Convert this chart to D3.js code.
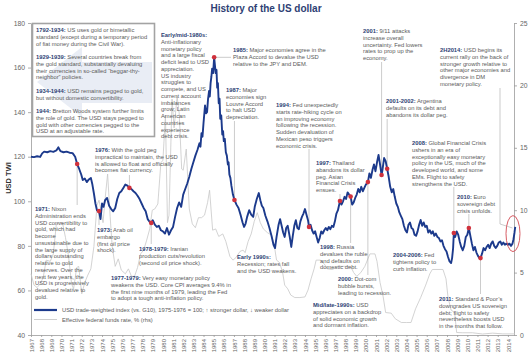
<!DOCTYPE html>
<html><head><meta charset="utf-8">
<script src="https://cdn.jsdelivr.net/npm/d3@7"></script>
<style>
body{margin:0;background:#fff;}
svg{display:block;font-family:"Liberation Sans",Arial,Helvetica,sans-serif;}
</style></head><body>
<svg id="c" width="531" height="360"></svg>
<script>
// ---------------- DATA ----------------
const titleText = "History of the US dollar";
const leftTicks = [40, 60, 80, 100, 120, 140, 160, 180];
const rightTicks = [0, 5, 10, 15, 20, 25];
const yearTicks = d3.range(1967, 2015);

// USD trade-weighted index (vs. G10), 1975-1976 = 100  [decimal year, value]
const usdSeries = [
[1967.0,120.0],[1967.3,119.8],[1967.6,120.2],[1967.9,119.9],[1968.1,121.5],[1968.3,122.3],[1968.6,122.0],[1968.9,122.5],
[1969.2,122.2],[1969.5,122.8],[1969.7,124.2],[1969.9,122.5],[1970.2,122.0],[1970.5,122.3],[1970.8,121.8],[1971.1,121.6],
[1971.35,120.0],[1971.55,116.7],[1971.75,114.5],[1971.95,112.0],[1972.1,109.5],[1972.3,110.2],[1972.5,108.6],[1972.7,109.8],
[1972.9,110.5],[1973.05,107.5],[1973.2,103.5],[1973.35,99.0],[1973.5,96.0],[1973.7,95.6],[1973.85,92.0],[1974.0,99.0],
[1974.15,97.5],[1974.3,100.5],[1974.5,101.5],[1974.7,98.0],[1974.9,96.5],[1975.1,95.5],[1975.3,97.0],[1975.5,101.0],
[1975.7,103.7],[1975.9,104.5],[1976.1,106.0],[1976.3,107.5],[1976.5,107.0],[1976.7,106.0],[1976.9,105.5],[1977.1,104.5],
[1977.3,103.7],[1977.5,102.5],[1977.7,101.0],[1977.9,99.0],[1978.1,97.0],[1978.3,95.5],[1978.5,92.0],[1978.7,90.7],
[1978.85,90.3],[1979.0,91.5],[1979.2,89.5],[1979.4,88.5],[1979.6,89.0],[1979.8,87.0],[1980.0,86.5],[1980.2,85.5],
[1980.4,88.0],[1980.6,85.0],[1980.8,87.0],[1981.0,88.5],[1981.2,93.0],[1981.4,97.0],[1981.6,99.5],[1981.8,97.5],
[1982.0,103.0],[1982.2,105.5],[1982.4,108.0],[1982.6,111.0],[1982.8,114.5],[1983.0,117.5],[1983.2,120.5],[1983.4,123.0],
[1983.6,126.0],[1983.7,124.5],[1983.8,130.5],[1983.9,129.0],[1984.0,135.0],[1984.15,143.0],[1984.25,139.5],[1984.35,140.0],
[1984.45,146.0],[1984.55,149.5],[1984.62,147.0],[1984.7,153.0],[1984.78,156.0],[1984.85,159.5],[1984.95,157.5],[1985.05,164.6],
[1985.2,157.5],[1985.28,159.0],[1985.35,151.0],[1985.42,153.0],[1985.5,144.0],[1985.58,146.0],[1985.65,137.0],[1985.75,138.5],
[1985.85,130.0],[1985.93,131.5],[1986.0,127.0],[1986.1,128.0],[1986.2,122.0],[1986.3,120.5],[1986.4,116.5],[1986.47,117.5],
[1986.55,112.0],[1986.65,110.5],[1986.75,107.0],[1986.9,103.0],[1987.05,100.6],[1987.25,98.5],[1987.45,97.0],[1987.65,94.0],
[1987.85,90.5],[1988.0,88.5],[1988.15,90.0],[1988.3,93.0],[1988.5,96.0],[1988.7,94.0],[1988.9,93.0],[1989.05,97.5],
[1989.25,101.0],[1989.45,103.7],[1989.6,100.5],[1989.75,98.0],[1989.9,97.0],[1990.1,93.5],[1990.3,91.0],[1990.5,88.0],
[1990.7,84.5],[1990.9,80.5],[1991.05,79.0],[1991.2,84.0],[1991.4,89.5],[1991.55,92.0],[1991.7,89.0],[1991.85,86.0],
[1992.0,84.0],[1992.15,88.0],[1992.3,89.0],[1992.5,84.0],[1992.65,79.5],[1992.8,84.5],[1992.95,89.0],[1993.1,91.5],
[1993.25,88.0],[1993.4,87.5],[1993.55,91.0],[1993.7,93.0],[1993.85,94.5],[1994.0,96.5],[1994.15,94.0],[1994.3,91.5],
[1994.4,88.5],[1994.55,89.5],[1994.7,87.0],[1994.85,85.5],[1995.0,86.5],[1995.15,84.0],[1995.3,81.5],[1995.45,83.5],
[1995.6,86.5],[1995.75,85.5],[1995.9,87.0],[1996.05,88.0],[1996.2,87.0],[1996.35,88.5],[1996.5,87.5],[1996.65,89.0],
[1996.8,88.5],[1996.95,91.0],[1997.1,94.5],[1997.25,96.0],[1997.45,100.1],[1997.6,98.5],[1997.75,100.0],[1997.9,102.0],
[1998.05,101.0],[1998.2,104.0],[1998.35,103.0],[1998.5,102.1],[1998.65,98.5],[1998.8,99.5],[1998.95,101.5],[1999.1,103.0],
[1999.25,105.5],[1999.4,104.0],[1999.55,106.5],[1999.7,104.5],[1999.85,106.0],[2000.0,107.5],[2000.2,108.6],[2000.35,112.5],
[2000.5,110.5],[2000.65,114.0],[2000.8,116.5],[2000.95,113.5],[2001.1,117.5],[2001.25,120.8],[2001.4,116.5],[2001.55,111.8],
[2001.65,114.5],[2001.8,119.4],[2001.95,118.0],[2002.1,114.6],[2002.25,111.0],[2002.4,106.5],[2002.55,104.0],[2002.7,105.5],
[2002.85,102.0],[2003.0,99.0],[2003.15,97.5],[2003.3,95.0],[2003.45,93.5],[2003.6,92.0],[2003.75,89.0],[2003.9,87.0],
[2004.05,86.0],[2004.2,89.5],[2004.35,90.5],[2004.5,88.0],[2004.65,87.5],[2004.8,85.0],[2004.95,84.5],[2005.1,86.5],
[2005.25,89.5],[2005.4,91.6],[2005.55,89.0],[2005.7,90.5],[2005.85,88.5],[2006.0,89.0],[2006.15,86.0],[2006.3,87.0],
[2006.45,85.5],[2006.6,86.5],[2006.75,84.5],[2006.9,85.5],[2007.05,84.0],[2007.2,83.5],[2007.35,82.0],[2007.5,82.5],
[2007.65,80.0],[2007.8,78.5],[2007.95,77.5],[2008.1,75.0],[2008.25,73.0],[2008.4,72.3],[2008.5,74.5],[2008.6,79.0],
[2008.67,85.8],[2008.8,84.0],[2008.95,86.5],[2009.1,85.0],[2009.25,82.0],[2009.4,79.5],[2009.55,78.0],[2009.7,80.0],
[2009.85,84.0],[2010.0,85.0],[2010.15,88.0],[2010.3,84.5],[2010.45,81.0],[2010.6,78.0],[2010.75,79.5],[2010.9,77.0],
[2011.05,75.5],[2011.2,74.5],[2011.3,74.5],[2011.45,76.5],[2011.6,79.0],[2011.75,78.0],[2011.9,79.5],[2012.05,80.5],
[2012.2,79.0],[2012.35,81.0],[2012.5,82.0],[2012.65,80.0],[2012.8,79.0],[2012.95,80.0],[2013.1,81.5],[2013.25,82.0],
[2013.4,80.5],[2013.55,81.5],[2013.7,80.5],[2013.85,81.0],[2014.0,80.5],[2014.15,81.0],[2014.3,80.0],[2014.45,81.0],
[2014.55,83.0],[2014.65,86.0],[2014.72,88.5]
];

// Effective federal funds rate, % (rhs)  [decimal year, value]
const fedSeries = [
[1967.0,4.9],[1967.3,4.0],[1967.6,3.8],[1967.9,4.1],[1968.2,4.6],[1968.5,6.0],[1968.9,5.9],[1969.2,6.5],[1969.5,8.9],
[1969.8,9.0],[1970.1,9.0],[1970.4,7.8],[1970.7,6.3],[1971.0,4.1],[1971.2,3.7],[1971.5,5.4],[1971.7,5.5],[1972.0,3.3],
[1972.3,4.2],[1972.6,4.8],[1972.9,5.3],[1973.2,7.1],[1973.5,10.4],[1973.7,10.8],[1973.9,10.0],[1974.1,9.0],[1974.35,11.3],
[1974.55,12.9],[1974.8,9.5],[1975.0,7.1],[1975.3,5.5],[1975.6,6.1],[1975.9,5.2],[1976.3,4.9],[1976.6,5.3],[1976.9,4.7],
[1977.2,4.7],[1977.5,5.4],[1977.8,6.5],[1978.1,6.8],[1978.4,7.6],[1978.7,8.5],[1978.95,10.0],[1979.2,10.1],[1979.5,10.5],
[1979.8,13.8],[1980.0,14.0],[1980.25,17.6],[1980.45,9.0],[1980.6,9.6],[1980.9,18.9],[1981.1,16.6],[1981.4,19.1],[1981.6,17.8],
[1981.85,13.3],[1982.0,13.2],[1982.3,14.9],[1982.6,10.1],[1982.9,8.9],[1983.2,8.6],[1983.5,9.4],[1983.8,9.4],[1984.1,9.6],
[1984.4,10.6],[1984.6,11.6],[1984.9,8.4],[1985.2,8.5],[1985.5,7.9],[1985.9,8.1],[1986.2,7.5],[1986.6,6.3],[1986.9,6.0],
[1987.2,6.2],[1987.6,6.7],[1987.9,6.8],[1988.1,6.6],[1988.4,7.5],[1988.7,8.1],[1989.0,9.1],[1989.3,9.8],[1989.6,9.0],
[1989.9,8.5],[1990.3,8.2],[1990.7,8.0],[1990.95,7.3],[1991.2,6.0],[1991.5,5.8],[1991.8,5.0],[1992.0,4.0],[1992.3,3.7],
[1992.6,3.2],[1993.0,3.0],[1993.5,3.0],[1994.0,3.05],[1994.3,3.6],[1994.6,4.5],[1994.9,5.3],[1995.1,6.0],[1995.5,6.0],
[1995.9,5.7],[1996.2,5.3],[1996.7,5.25],[1997.3,5.5],[1997.9,5.5],[1998.5,5.5],[1998.8,5.0],[1999.1,4.7],[1999.5,5.0],
[1999.9,5.5],[2000.4,6.5],[2000.9,6.5],[2001.1,5.9],[2001.4,4.2],[2001.7,3.1],[2001.95,1.8],[2002.5,1.75],[2002.9,1.3],
[2003.5,1.0],[2004.0,1.0],[2004.45,1.0],[2004.9,2.1],[2005.4,3.0],[2005.9,4.0],[2006.3,4.9],[2006.55,5.25],[2007.6,5.25],
[2007.9,4.5],[2008.1,3.0],[2008.4,2.0],[2008.75,1.8],[2008.95,0.2],[2009.5,0.18],[2010.5,0.18],[2011.5,0.08],[2012.5,0.15],
[2013.5,0.09],[2014.7,0.09]
];

// event markers (decimal year) on the USD line
const eventDates = [1971.55, 1973.7, 1976.7, 1978.85, 1985.05, 1987.05, 1994.4, 1997.45, 1998.5, 2000.2, 2001.55, 2002.1, 2008.67, 2010.15, 2011.3];

const legendLabels = ["USD trade-weighted index (vs. G10), 1975-1976 = 100; \u2191 stronger dollar, \u2193 weaker dollar",
                      "Effective federal funds rate, % (rhs)"];

// annotation texts
const notes = [
 {x:36, y:30, head:"1792-1934:", lines:[" US uses gold or bimetallic","standard (except during a temporary period","of fiat money during the Civil War).","",
   "\u00a71929-1939:| Several countries break from","the gold standard, substantially devaluing","their currencies in so-called \u201cbeggar-thy-","neighbor\u201d policies.","",
   "\u00a71934-1944:| USD remains pegged to gold,","but without domestic convertibility.","",
   "\u00a71944:| Bretton Woods system further limits","the role of gold. The USD stays pegged to","gold with other currencies pegged to the","USD at an adjustable rate."]},
 {x:161, y:35, head:"Early/mid-1980s:", lines:["","Anti-inflationary","monetary policy","and a large fiscal","deficit lead to USD","appreciation.","US industry","struggles to","compete, and US","current account","imbalances","grow; Latin","American","countries","experience","debt crisis."]},
 {x:233, y:50, head:"1985:", lines:[" Major economies agree in the","Plaza Accord to devalue the USD","relative to the JPY and DEM."]},
 {x:226, y:90, head:"1987:", lines:[" Major","economies sign","Louvre Accord","to halt USD","depreciation."]},
 {x:276, y:105, head:"1994:", lines:[" Fed unexpectedly","starts rate-hiking cycle on","an improving economy","following the recession.","Sudden devaluation of","Mexican peso triggers","economic crisis."]},
 {x:363, y:31, head:"2001:", lines:[" 9/11 attacks","increase overall","uncertainty. Fed lowers","rates to prop up the","economy."]},
 {x:440, y:50, head:"2H2014:", lines:[" USD begins its","current rally on the back of","stronger growth relative to","other major economies and","divergence in DM","monetary policy."]},
 {x:386, y:101, head:"2001-2002:", lines:[" Argentina","defaults on its debt and","abandons its dollar peg."]},
 {x:316, y:163, head:"1997:", lines:[" Thailand","abandons its dollar","peg. Asian","Financial Crisis","ensues."]},
 {x:412, y:143, head:"2008:", lines:[" Global Financial Crisis","ushers in an era of","exceptionally easy monetary","policy in the US, much of the","developed world, and some","EMs. Flight to safety","strengthens the USD."]},
 {x:457, y:197, head:"2010:", lines:[" Euro","sovereign debt","crisis unfolds."]},
 {x:95, y:150, head:"1976:", lines:[" With the gold peg","impractical to maintain, the USD","is allowed to float and officially","becomes fiat currency."]},
 {x:35, y:209, head:"1971:", lines:[" Nixon","Administration ends","USD convertibility to","gold, which had","become","unsustainable due to","the large supply of","dollars outstanding","relative to gold","reserves. Over the","next few years, the","USD is progressively","devalued relative to","gold."]},
 {x:97, y:230, head:"1973:", lines:[" Arab oil","embargo","(first oil price","shock)."]},
 {x:139, y:249, head:"1978-1979:", lines:[" Iranian","production cuts/revolution","(second oil price shock)."]},
 {x:111, y:278, head:"1977-1979:", lines:[" Very easy monetary policy","weakens the USD. Core CPI averages 9.4% in","the first nine months of 1979, leading the Fed","to adopt a tough anti-inflation policy."]},
 {x:237, y:257, head:"Early 1990s:", lines:["","Recession; rates fall","and the USD weakens."]},
 {x:320, y:247, head:"1998:", lines:[" Russia","devalues the ruble","and defaults on","domestic debt."]},
 {x:338, y:279, head:"2000:", lines:[" Dot-com","bubble bursts,","leading to recession."]},
 {x:313, y:305, head:"Mid/late-1990s:", lines:[" USD","appreciates on a backdrop","of solid economic growth","and dormant inflation."]},
 {x:393, y:255, head:"2004-2006:", lines:[" Fed","tightens policy to","curb inflation."]},
 {x:439, y:299, head:"2011:", lines:[" Standard & Poor\u2019s","downgrades US sovereign","debt; flight to safety","nevertheless boosts USD","in the months that follow."]}
];
// leaders: event index -> text end (pixel y, or pixel x for horizontal)
const leaders = [
 {ev:0, y:205},{ev:1, y:225},{ev:2, y:175},{ev:3, y:244},{ev:4, hx:231},{ev:5, y:121},{ev:6, y:149},
 {ev:7, y:194},{ev:8, y:243},{ev:9, y:275},{ev:10, y:62},{ev:11, y:119},{ev:12, y:187},{ev:13, y:214},{ev:14, y:294}
];

// ---------------- CHART ----------------
const svg = d3.select("#c");
const W = 531, H = 360;
const L = 31, R = 514, T = 23, B = 335;
const x = d3.scaleLinear().domain([1967, 2014.6]).range([L, R]);
const yL = d3.scaleLinear().domain([40, 180]).range([B, T]);
const yR = d3.scaleLinear().domain([0, 25]).range([B, T]);

const navy = "#2e3f74", gray = "#5a5a5a", axisCol = "#9a9a9a";
const fs = 5.8, lh = 6.75;

svg.append("rect").attr("width", W).attr("height", H).attr("fill", "#fff");

svg.append("text").attr("x", 266).attr("y", 12).attr("text-anchor", "middle")
  .attr("font-size", 10).attr("font-weight", "bold").attr("fill", navy).text(titleText);

svg.append("polygon").attr("points", "37,82 82,47 82,62 152,62 152,103 82,103 82,117").attr("fill", "#e9edf5");
svg.append("rect").attr("x", 32.5).attr("y", 23.5).attr("width", 122).attr("height", 113)
  .attr("fill", "none").attr("stroke", "#a3a3a3").attr("stroke-width", 1.6);

function styleAxis(g) {
  g.select(".domain").attr("stroke", axisCol).attr("stroke-width", 0.8);
  g.selectAll(".tick line").attr("stroke", axisCol).attr("stroke-width", 0.8);
  g.selectAll(".tick text").attr("fill", "#666").attr("font-family", "Liberation Sans, Arial, sans-serif");
}
const gl = svg.append("g").attr("transform", `translate(${L},0)`)
  .call(d3.axisLeft(yL).tickValues(leftTicks).tickSize(3).tickSizeOuter(0).tickPadding(3));
gl.selectAll(".tick text").attr("font-size", 6.8);
styleAxis(gl);
const gr = svg.append("g").attr("transform", `translate(${R},0)`)
  .call(d3.axisRight(yR).tickValues(rightTicks).tickSize(3).tickSizeOuter(0).tickPadding(3));
gr.selectAll(".tick text").attr("font-size", 6.8);
styleAxis(gr);
const gb = svg.append("g").attr("transform", `translate(0,${B})`)
  .call(d3.axisBottom(x).tickValues(yearTicks).tickFormat(d3.format("d")).tickSize(2).tickSizeOuter(0));
gb.selectAll(".tick text").attr("font-size", 6).attr("text-anchor", "end")
  .attr("transform", "rotate(-90)").attr("x", -4).attr("y", 0).attr("dy", "0.35em");
styleAxis(gb);

svg.append("text").attr("transform", "translate(11,178) rotate(-90)").attr("text-anchor", "middle")
  .attr("font-size", 7.5).attr("font-weight", "bold").attr("fill", "#333").text("USD TWI");

const fedLine = d3.line().x(d => x(d[0])).y(d => yR(d[1]));
svg.append("path").datum(fedSeries).attr("d", fedLine).attr("fill", "none")
  .attr("stroke", "#c8c8c8").attr("stroke-width", 0.8);

const usdDates = usdSeries.map(d => d[0]);
function usdAt(t) {
  const i = Math.max(1, Math.min(usdSeries.length - 1, d3.bisectLeft(usdDates, t)));
  const a = usdSeries[i - 1], b = usdSeries[i];
  return a[1] + (b[1] - a[1]) * (t - a[0]) / (b[0] - a[0]);
}

leaders.forEach(l => {
  const t = eventDates[l.ev];
  const px = x(t), py = yL(usdAt(t));
  if (l.hx !== undefined) {
    svg.append("line").attr("x1", px).attr("y1", py).attr("x2", l.hx).attr("y2", py)
      .attr("stroke", "#aaa").attr("stroke-width", 0.6);
  } else {
    svg.append("line").attr("x1", px).attr("y1", py).attr("x2", px).attr("y2", l.y)
      .attr("stroke", "#aaa").attr("stroke-width", 0.6);
  }
});
svg.append("polyline").attr("points", `500,88 500,224 ${x(2014.45)},228`)
  .attr("fill", "none").attr("stroke", "#aaa").attr("stroke-width", 0.6);

const usdLine = d3.line().x(d => x(d[0])).y(d => yL(d[1]));
svg.append("path").datum(usdSeries).attr("d", usdLine).attr("fill", "none")
  .attr("stroke", "#1c3a8c").attr("stroke-width", 1.9).attr("stroke-linejoin", "round");

svg.selectAll("circle.ev").data(eventDates).join("circle").attr("class", "ev")
  .attr("cx", d => x(d)).attr("cy", d => yL(usdAt(d))).attr("r", 2.3).attr("fill", "#d0313c");

svg.append("ellipse").attr("cx", x(2014.5)).attr("cy", yL(85.5)).attr("rx", 7).attr("ry", 18)
  .attr("fill", "none").attr("stroke", "#d24a52").attr("stroke-width", 0.9);

notes.forEach(n => {
  const g = svg.append("g");
  n.lines.forEach((ln, i) => {
    if (ln === "" && i > 0) return;
    const t = g.append("text").attr("x", n.x).attr("y", n.y + i * lh).attr("dy", "0.35em")
      .attr("font-size", fs).attr("fill", gray);
    if (i === 0) {
      t.append("tspan").attr("font-weight", "bold").attr("fill", navy).text(n.head);
      if (ln) t.append("tspan").text(ln);
    } else if (ln.startsWith("\u00a7")) {
      const parts = ln.slice(1).split("|");
      t.append("tspan").attr("font-weight", "bold").attr("fill", navy).text(parts[0]);
      t.append("tspan").text(parts[1]);
    } else {
      t.text(ln);
    }
  });
});

svg.append("line").attr("x1", 34).attr("x2", 57).attr("y1", 310).attr("y2", 310)
  .attr("stroke", "#1c3a8c").attr("stroke-width", 2.2);
svg.append("line").attr("x1", 34).attr("x2", 57).attr("y1", 319.5).attr("y2", 319.5)
  .attr("stroke", "#c8c8c8").attr("stroke-width", 0.9);
legendLabels.forEach((s, i) => {
  svg.append("text").attr("x", 62).attr("y", 310 + i * 9.5).attr("dy", "0.35em")
    .attr("font-size", fs).attr("fill", gray).text(s);
});
</script>
</body></html>
